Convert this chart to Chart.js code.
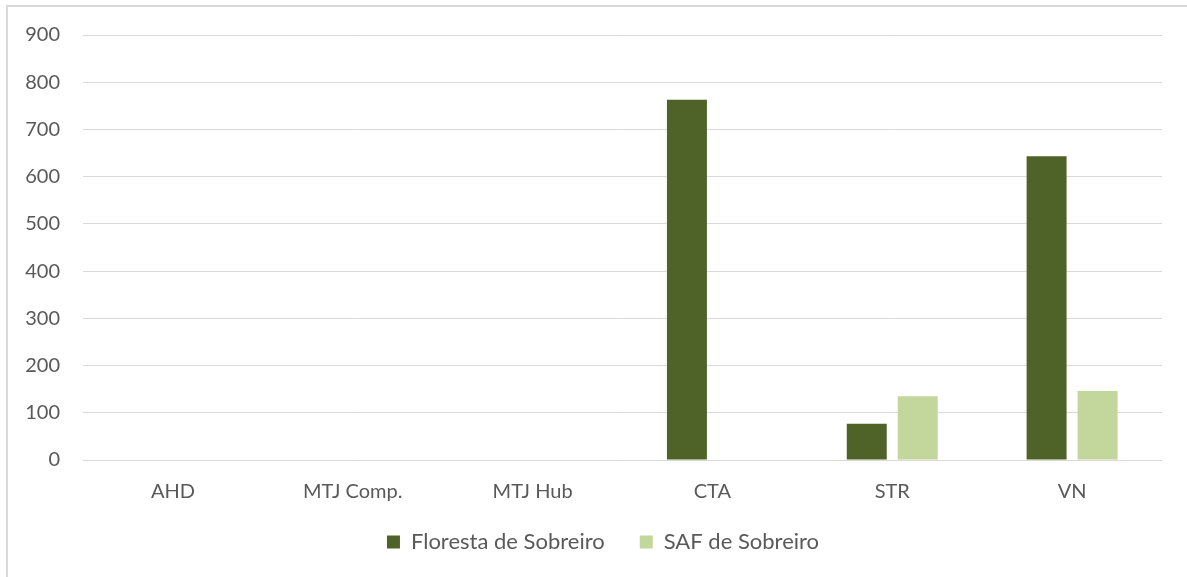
<!DOCTYPE html>
<html>
<head>
<meta charset="utf-8">
<script src="https://cdn.jsdelivr.net/npm/chart.js@4/dist/chart.umd.min.js"></script>
<style>
  html, body { margin: 0; padding: 0; background: #fff; }
  #frame {
    position: absolute; left: 6px; top: 5px; width: 1200px; height: 600px;
    border-left: 2px solid #d9d9d9; border-top: 2px solid #d9d9d9;
  }
  #c { position: absolute; left: 0; top: 0; }
</style>
</head>
<body>
<div id="frame"></div>
<canvas id="c" width="1187" height="577"></canvas>
<script>
// Sites and cork-oak land-use series
const categories = ['AHD', 'MTJ Comp.', 'MTJ Hub', 'CTA', 'STR', 'VN'];
const florestaSobreiro = [0, 0, 0, 763, 77, 643];
const safSobreiro = [0, 0, 0, 1, 135, 146];
const yTicks = [0, 100, 200, 300, 400, 500, 600, 700, 800, 900];

const textColor = '#595959';
const gridColor = '#d9d9d9';
const fontFamily = 'Lato, "Open Sans", "Liberation Sans", sans-serif';

// Nudge the legend block after layout so it sits a little higher and to the right
const legendNudge = {
  id: 'legendNudge',
  afterLayout(chart, args, opts) {
    const lg = chart.legend;
    if (!lg) return;
    lg.top += opts.dy; lg.bottom += opts.dy;
    lg.left += opts.dx; lg.right += opts.dx;
  }
};

new Chart(document.getElementById('c'), {
  type: 'bar',
  data: {
    labels: categories,
    datasets: [
      { label: 'Floresta de Sobreiro', data: florestaSobreiro, backgroundColor: '#4f6228', borderWidth: 0 },
      { label: 'SAF de Sobreiro', data: safSobreiro, backgroundColor: '#c3d69b', borderWidth: 0 }
    ]
  },
  plugins: [legendNudge],
  options: {
    responsive: false,
    animation: false,
    datasets: { bar: { categoryPercentage: 0.567, barPercentage: 0.784 } },
    layout: { padding: { top: 25, right: 25, left: 0, bottom: 6 } },
    plugins: {
      tooltip: { enabled: false },
      legendNudge: { dx: 22, dy: -8 },
      legend: {
        position: 'bottom',
        labels: {
          color: textColor,
          font: { family: fontFamily, size: 22 },
          boxWidth: 13, boxHeight: 13,
          padding: 35
        }
      }
    },
    scales: {
      x: {
        afterFit: (s) => { s.height = 44; },
        grid: { display: false },
        border: { display: false },
        ticks: { color: textColor, font: { family: fontFamily, size: 20 }, padding: 12, maxRotation: 0 }
      },
      y: {
        min: 0, max: 900,
        afterFit: (s) => { s.width = 83; },
        afterBuildTicks: (s) => { s.ticks = yTicks.map(v => ({ value: v })); },
        grid: { color: gridColor, lineWidth: 1, drawTicks: false },
        border: { display: false },
        ticks: { color: textColor, font: { family: fontFamily, size: 20 }, padding: 23 }
      }
    }
  }
});
</script>
</body>
</html>
